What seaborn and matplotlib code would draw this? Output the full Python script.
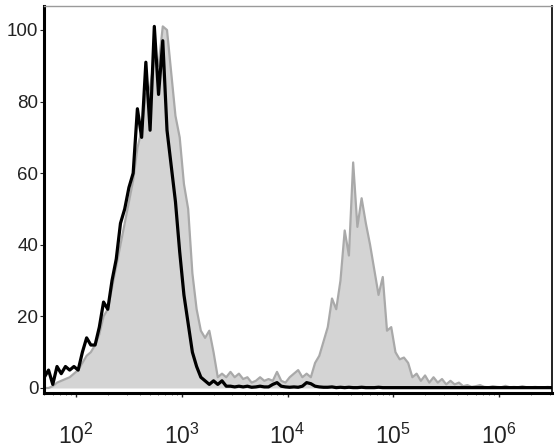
import numpy as np
import pandas as pd
import matplotlib
matplotlib.use("Agg")
import matplotlib.pyplot as plt
import seaborn as sns

# histogram channels (log10 of fluorescence), 0.04 decade per channel
log_channels = np.round(np.arange(1.70, 6.5001, 0.04), 2)

black_counts = [
    3, 5, 1, 6, 4, 6, 5, 6, 5, 10,
    14, 12, 12, 17, 24, 22, 30, 36, 46, 50,
    56, 60, 78, 70, 91, 72, 101, 82, 97, 72,
    62, 52, 38, 26, 18, 10, 6, 3, 2, 1,
    2, 1, 2, 0.5, 0.5, 0.3, 0.5, 0.3, 0.5, 0.2,
    0.3, 0.5, 0.3, 0.3, 1.0, 1.5, 0.5, 0.3, 0.2, 0.3,
    0.2, 0.5, 1.5, 1.2, 0.5, 0.3, 0.2, 0.2, 0.3, 0.1,
    0.2, 0.1, 0.2, 0.1, 0.1, 0.2, 0.1, 0.1, 0.1, 0.2,
    0.1, 0.1, 0.1, 0.1, 0.1, 0.1, 0.1, 0.1, 0.1, 0.1,
    0.1, 0.1, 0.1, 0.1, 0.1, 0.1, 0.1, 0.1, 0.1, 0.1,
    0.1, 0.1, 0.1, 0.1, 0.1, 0.1, 0.1, 0.1, 0.1, 0.1,
    0.1, 0.1, 0.1, 0.1, 0.1, 0.1, 0.1, 0.1, 0.1, 0.1,
    0.1,
]

gray_counts = [
    0, 0, 0.5, 1.5, 2, 2.5, 3, 4, 5, 7,
    9, 10, 12, 15, 20, 22, 28, 34, 40, 46,
    52, 58, 67, 72, 82, 84, 92, 90, 101, 100,
    88, 76, 70, 57, 50, 32, 22, 16, 14, 16,
    10, 3, 4, 3, 4.5, 3, 4, 2.5, 3, 1.5,
    2, 3, 2, 2.5, 2, 4.5, 2, 1.5, 3, 4,
    5, 3, 4, 3, 7, 9, 13, 17, 25, 22,
    30, 44, 37, 63, 45, 53, 46, 40, 33, 26,
    31, 16, 17, 10, 8, 8.5, 7, 3, 4, 2,
    3.5, 1.5, 3, 1.5, 2.5, 1, 2, 1, 1.5, 0.5,
    0.8, 0.3, 0.5, 0.8, 0.3, 0.2, 0.5, 0.3, 0.2, 0.6,
    0.2, 0.3, 0.2, 0.5, 0.2, 0.2, 0.3, 0.2, 0.2, 0.3,
    0.2,
]

y_ticks = [0, 20, 40, 60, 80, 100]
x_decades = [2, 3, 4, 5, 6]

df = pd.DataFrame({
    "fluor": 10.0 ** log_channels,
    "isotype": black_counts,
    "stained": gray_counts,
})

sns.set_theme(style="white")
plt.rcParams["font.family"] = ["Liberation Sans", "DejaVu Sans"]
plt.rcParams["mathtext.fontset"] = "custom"
plt.rcParams["mathtext.rm"] = "Liberation Sans"
plt.rcParams["mathtext.it"] = "Liberation Sans"

fig = plt.figure(figsize=(5.6, 4.48), dpi=100)
ax = fig.add_axes([44 / 560, 1 - 393 / 448, 508 / 560, 387 / 448])

ax.fill_between(df["fluor"], df["stained"], 0, color="#d4d4d4", linewidth=0, zorder=1)
sns.lineplot(data=df, x="fluor", y="stained", ax=ax, color="#a9a9a9", linewidth=1.6, zorder=2)
sns.lineplot(data=df, x="fluor", y="isotype", ax=ax, color="black", linewidth=2.3, zorder=3)

ax.set_xscale("log")
ax.set_xlim(10 ** 1.697, 10 ** 6.50)
ax.set_ylim(-1.4, 106.7)
ax.set_xlabel("")
ax.set_ylabel("")

ax.set_yticks(y_ticks)
ax.set_yticklabels([str(v) for v in y_ticks], fontsize=13.5)
ax.set_xticks([10.0 ** d for d in x_decades])
ax.set_xticklabels([r"$\mathregular{10^{%d}}$" % d for d in x_decades], fontsize=16.5)
ax.xaxis.set_minor_locator(matplotlib.ticker.LogLocator(base=10, subs=np.arange(2, 10)))
ax.xaxis.set_minor_formatter(matplotlib.ticker.NullFormatter())

ax.tick_params(axis="y", which="major", left=True, length=3, width=0.8, pad=1, colors="#222222")
ax.tick_params(axis="x", which="major", bottom=True, length=3, width=1, pad=19, colors="#222222")
ax.tick_params(axis="x", which="minor", bottom=True, length=1.5, width=0.6, color="#555555")

for side in ["left", "bottom"]:
    ax.spines[side].set_color("black")
    ax.spines[side].set_linewidth(2.2)
ax.spines["right"].set_color("#222222")
ax.spines["right"].set_linewidth(1.4)
ax.spines["top"].set_color("#9a9a9a")
ax.spines["top"].set_linewidth(1.0)

fig.savefig("out.png", dpi=100)
